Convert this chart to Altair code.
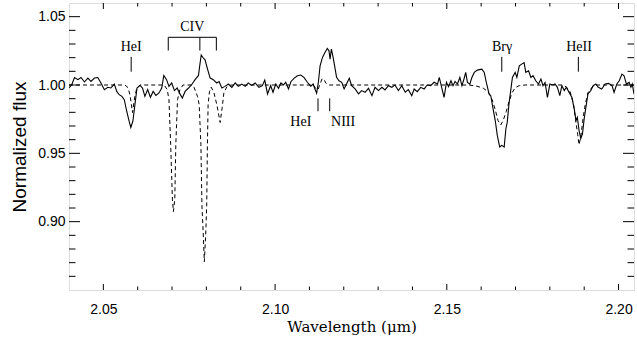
import altair as alt
import pandas as pd

# Observed spectrum (solid)
obs_wl = [2.0400, 2.0408, 2.0416, 2.0426, 2.0435, 2.0445, 2.0455, 2.0464, 2.0474, 2.0484,
          2.0493, 2.0503, 2.0513, 2.0522, 2.0532, 2.0539, 2.0546, 2.0554, 2.0561, 2.0568,
          2.0575, 2.0580, 2.0586, 2.0592, 2.0598, 2.0607, 2.0614, 2.0621, 2.0629, 2.0637,
          2.0645, 2.0653, 2.0662, 2.0670, 2.0676, 2.0684, 2.0691, 2.0699, 2.0707, 2.0715,
          2.0723, 2.0730, 2.0738, 2.0748, 2.0757, 2.0767, 2.0777, 2.0781, 2.0785, 2.0790,
          2.0796, 2.0804, 2.0811, 2.0820, 2.0830, 2.0837, 2.0845, 2.0854, 2.0864, 2.0874,
          2.0884, 2.0893, 2.0903, 2.0913, 2.0922, 2.0932, 2.0942,
          2.0953, 2.0963, 2.0970, 2.0978, 2.0987, 2.0994, 2.1002, 2.1010, 2.1017, 2.1024,
          2.1031, 2.1039, 2.1046, 2.1055, 2.1065, 2.1075, 2.1084, 2.1094, 2.1104, 2.1111,
          2.1116, 2.1121, 2.1126, 2.1131, 2.1138, 2.1146, 2.1152, 2.1157, 2.1160, 2.1164,
          2.1169, 2.1175, 2.1179, 2.1186, 2.1194, 2.1201, 2.1208, 2.1216, 2.1223, 2.1233,
          2.1243, 2.1252, 2.1262, 2.1272, 2.1282, 2.1291, 2.1301, 2.1311, 2.1320, 2.1330,
          2.1340, 2.1349, 2.1359, 2.1369, 2.1379, 2.1388, 2.1398, 2.1405, 2.1414, 2.1424,
          2.1434, 2.1443, 2.1453, 2.1463, 2.1473,
          2.1478, 2.1485, 2.1492, 2.1499, 2.1505, 2.1512, 2.1518, 2.1524, 2.1531, 2.1538,
          2.1544, 2.1550, 2.1555, 2.1560, 2.1567, 2.1573, 2.1580, 2.1589, 2.1602, 2.1609,
          2.1615, 2.1623, 2.1628, 2.1633, 2.1641, 2.1647, 2.1654, 2.1660, 2.1667, 2.1672,
          2.1676, 2.1681, 2.1686, 2.1691, 2.1699, 2.1704, 2.1711, 2.1718, 2.1725, 2.1730,
          2.1738, 2.1745, 2.1751, 2.1759, 2.1767, 2.1774, 2.1780, 2.1786, 2.1793, 2.1800,
          2.1808, 2.1815, 2.1822, 2.1829, 2.1835, 2.1842, 2.1848, 2.1856, 2.1864, 2.1871,
          2.1876, 2.1880, 2.1885, 2.1890, 2.1895, 2.1900, 2.1905, 2.1911, 2.1919, 2.1926,
          2.1934, 2.1941, 2.1951, 2.1961, 2.1971, 2.1981, 2.1987, 2.1995, 2.2002, 2.2010,
          2.2016, 2.2023, 2.2031, 2.2036, 2.2040, 2.2045]
obs_flux = [0.9978, 1.0002, 1.0055, 1.0039, 1.0055, 1.0022, 1.0051, 1.0026, 1.0051, 1.0055,
            1.0015, 0.9966, 0.9983, 0.9978, 1.0007, 0.9953, 0.9929, 0.9917, 0.9893, 0.9808,
            0.9735, 0.9689, 0.9735, 0.9857, 0.9978, 0.9997, 0.9978, 0.9917, 0.9966, 0.9910,
            0.9953, 0.9924, 0.9942, 0.9978, 1.0070, 1.0039, 0.9990, 1.0015, 0.9959, 0.9978,
            0.9935, 0.9905, 0.9953, 0.9978, 1.0002, 1.0039, 1.0070, 1.0148, 1.0220, 1.0201,
            1.0184, 1.0111, 1.0051, 1.0039, 1.0015, 1.0026, 0.9978, 0.9990, 1.0007, 0.9983,
            1.0015, 0.9990, 1.0007, 0.9990, 1.0015, 0.9997, 1.0015,
            0.9983, 0.9995, 1.0036, 0.9935, 0.9995, 0.9947, 1.0007, 0.9976, 1.0015, 1.0000,
            1.0020, 0.9971, 1.0024, 1.0049, 1.0068, 1.0073, 1.0056, 1.0020, 0.9991, 1.0007,
            0.9971, 0.9940, 1.0020, 1.0140, 1.0202, 1.0242, 1.0267, 1.0250, 1.0189, 1.0262,
            1.0202, 1.0116, 1.0056, 1.0031, 1.0020, 0.9971, 1.0007, 1.0049, 0.9995, 0.9971,
            0.9935, 0.9959, 0.9947, 0.9976, 0.9922, 0.9983, 0.9959, 0.9983, 0.9964, 0.9995,
            0.9983, 1.0000, 0.9959, 0.9995, 0.9947, 0.9966, 0.9922, 0.9971, 0.9951, 0.9983,
            0.9971, 1.0000, 0.9995, 1.0020, 1.0007,
            1.0055, 0.9983, 0.9910, 1.0019, 0.9988, 1.0031, 0.9995, 1.0026, 1.0007, 1.0055,
            0.9995, 1.0044, 1.0092, 1.0019, 1.0007, 1.0055, 1.0092, 1.0109, 1.0116, 1.0092,
            1.0019, 0.9935, 0.9922, 0.9849, 0.9740, 0.9631, 0.9546, 0.9558, 0.9546, 0.9680,
            0.9728, 0.9862, 0.9959, 1.0055, 1.0092, 1.0055, 1.0140, 1.0153, 1.0164, 1.0092,
            1.0104, 1.0055, 1.0068, 1.0031, 1.0007, 1.0044, 0.9995, 1.0019, 0.9910, 1.0007,
            1.0000, 1.0007, 0.9983, 0.9922, 0.9995, 0.9959, 0.9983, 0.9946, 0.9910, 0.9825,
            0.9740, 0.9764, 0.9667, 0.9607, 0.9643, 0.9753, 0.9837, 0.9935, 0.9959, 0.9995,
            1.0007, 0.9983, 0.9971, 1.0007, 1.0012, 0.9995, 0.9946, 1.0007, 1.0031, 1.0080,
            1.0068, 1.0007, 1.0019, 0.9983, 1.0007, 0.9935]

# Model spectrum (dashed)
model_wl = [2.0400, 2.0563, 2.0572, 2.0578, 2.0585, 2.0592, 2.0598, 2.0607,
            2.0677, 2.0686, 2.0691, 2.0696, 2.0701, 2.0704, 2.0708, 2.0711, 2.0716, 2.0723, 2.0732,
            2.0755, 2.0764, 2.0774, 2.0779, 2.0784, 2.0787, 2.0791, 2.0794, 2.0798, 2.0801, 2.0803,
            2.0805, 2.0809, 2.0814, 2.0822, 2.0831, 2.0840, 2.0846, 2.0851, 2.0860, 2.0872,
            2.1111, 2.1119, 2.1125, 2.1131, 2.1137, 2.1143, 2.1148, 2.1157,
            2.1565, 2.1588, 2.1606, 2.1620, 2.1632, 2.1641, 2.1649, 2.1657, 2.1664, 2.1673,
            2.1681, 2.1690, 2.1699, 2.1711, 2.1728,
            2.1833, 2.1847, 2.1859, 2.1868, 2.1875, 2.1881, 2.1885, 2.1891, 2.1897, 2.1903,
            2.1911, 2.1923, 2.1938, 2.2045]
model_flux = [1.0000, 1.0000, 0.9980, 0.9922, 0.9798, 0.9922, 0.9980, 1.0000,
              1.0000, 0.9966, 0.9893, 0.9566, 0.9165, 0.9074, 0.9165, 0.9566, 0.9893, 0.9966, 1.0000,
              1.0000, 0.9984, 0.9917, 0.9857, 0.9566, 0.9122, 0.8903, 0.8707, 0.8903, 0.9122, 0.9566,
              0.9857, 0.9951, 0.9984, 0.9944, 0.9849, 0.9726, 0.9835, 0.9944, 0.9988, 1.0000,
              1.0000, 0.9973, 0.9966, 1.0009, 1.0046, 1.0039, 1.0013, 1.0000,
              1.0000, 0.9991, 0.9977, 0.9951, 0.9893, 0.9820, 0.9740, 0.9707, 0.9740, 0.9806,
              0.9878, 0.9944, 0.9980, 0.9995, 1.0000,
              1.0000, 0.9988, 0.9951, 0.9871, 0.9747, 0.9638, 0.9562, 0.9638, 0.9762, 0.9857,
              0.9944, 0.9984, 1.0000, 1.0000]

x_major = [2.05, 2.10, 2.15, 2.20]
x_minor = [2.06, 2.07, 2.08, 2.09, 2.11, 2.12, 2.13, 2.14, 2.16, 2.17, 2.18, 2.19]
y_major = [0.90, 0.95, 1.00, 1.05]
y_minor = [0.86, 0.87, 0.88, 0.89, 0.91, 0.92, 0.93, 0.94, 0.96, 0.97, 0.98, 0.99,
           1.01, 1.02, 1.03, 1.04]

label_text = ["HeI", "CIV", "Brγ", "HeII", "HeI", "NIII"]
label_wl = [2.0581, 2.0759, 2.1661, 2.1885, 2.1075, 2.1198]
label_flux = [1.0279, 1.0426, 1.0279, 1.0279, 0.9729, 0.9729]

marker_wl = [2.0581, 2.0689, 2.0781, 2.0829, 2.1660, 2.1883, 2.1125, 2.1159]
marker_top = [1.0206, 1.0349, 1.0349, 1.0349, 1.0206, 1.0206, 0.9902, 0.9902]
marker_bottom = [1.0097, 1.0252, 1.0252, 1.0252, 1.0097, 1.0097, 0.9808, 0.9808]

bracket_wl = [2.0689]
bracket_wl2 = [2.0829]
bracket_flux = [1.0349]

W, H = 565, 287

xs = alt.Scale(domain=[2.04, 2.2045], nice=False, zero=False)
ys = alt.Scale(domain=[0.85, 1.06], nice=False, zero=False)

xaxis = alt.Axis(values=x_major, format=".2f", title="Wavelength (μm)", grid=False,
                 ticks=False, tickSize=0, domain=False, labelFont="Liberation Sans",
                 labelFontSize=14, labelPadding=12, labelColor="black",
                 titleFont="DejaVu Serif", titleFontSize=15, titleFontWeight="normal",
                 titleColor="black", titlePadding=3)
yaxis = alt.Axis(values=y_major, format=".2f", title="Normalized flux", grid=False,
                 ticks=False, tickSize=0, domain=False, labelFont="Liberation Sans",
                 labelFontSize=14, labelPadding=4, labelColor="black",
                 titleFont="Liberation Sans", titleFontSize=19, titleFontWeight="normal",
                 titleColor="black", titlePadding=8)

X = alt.X("wl:Q", scale=xs, axis=xaxis)
Y = alt.Y("flux:Q", scale=ys, axis=yaxis)

obs = pd.DataFrame({"wl": obs_wl, "flux": obs_flux})
model = pd.DataFrame({"wl": model_wl, "flux": model_flux})

obs_line = alt.Chart(obs).mark_line(color="black", strokeWidth=1.1, clip=True).encode(x=X, y=Y)
model_line = alt.Chart(model).mark_line(color="black", strokeWidth=1, strokeDash=[4, 3],
                                        clip=True).encode(x=X, y=Y)

def xticks(vals, length):
    df = pd.DataFrame({"wl": vals})
    bottom = alt.Chart(df).mark_rule(color="black", strokeWidth=1).encode(
        x=X, y=alt.value(H), y2=alt.value(H - length))
    top = alt.Chart(df).mark_rule(color="black", strokeWidth=1).encode(
        x=X, y=alt.value(0), y2=alt.value(length))
    return [bottom, top]

def yticks(vals, length):
    df = pd.DataFrame({"flux": vals})
    left = alt.Chart(df).mark_rule(color="black", strokeWidth=1).encode(
        y=Y, x=alt.value(0), x2=alt.value(length))
    right = alt.Chart(df).mark_rule(color="black", strokeWidth=1).encode(
        y=Y, x=alt.value(W), x2=alt.value(W - length))
    return [left, right]

tick_layers = xticks(x_major, 6) + xticks(x_minor, 3.5) + yticks(y_major, 11) + yticks(y_minor, 6.5)

markers = pd.DataFrame({"wl": marker_wl, "flux": marker_top, "flux2": marker_bottom})
marker_rules = alt.Chart(markers).mark_rule(color="black", strokeWidth=1).encode(
    x=X, y=Y, y2="flux2:Q")

bracket = pd.DataFrame({"wl": bracket_wl, "wl2": bracket_wl2, "flux": bracket_flux})
bracket_rule = alt.Chart(bracket).mark_rule(color="black", strokeWidth=1).encode(
    x=X, x2="wl2:Q", y=Y)

labels = pd.DataFrame({"wl": label_wl, "flux": label_flux, "text": label_text})
label_text_layer = alt.Chart(labels).mark_text(font="Liberation Serif", fontSize=14,
                                               color="black", align="center",
                                               baseline="middle").encode(
    x=X, y=Y, text="text:N")

chart = alt.layer(model_line, obs_line, *tick_layers, marker_rules, bracket_rule,
                  label_text_layer).properties(
    width=W, height=H,
    padding={"left": 69, "top": 3, "right": 3, "bottom": 53},
    autosize=alt.AutoSizeParams(type="none"),
).configure_view(stroke="black", strokeWidth=1).configure(background="white")

chart.save("out.html", embed_options={"renderer": "svg", "actions": False})
